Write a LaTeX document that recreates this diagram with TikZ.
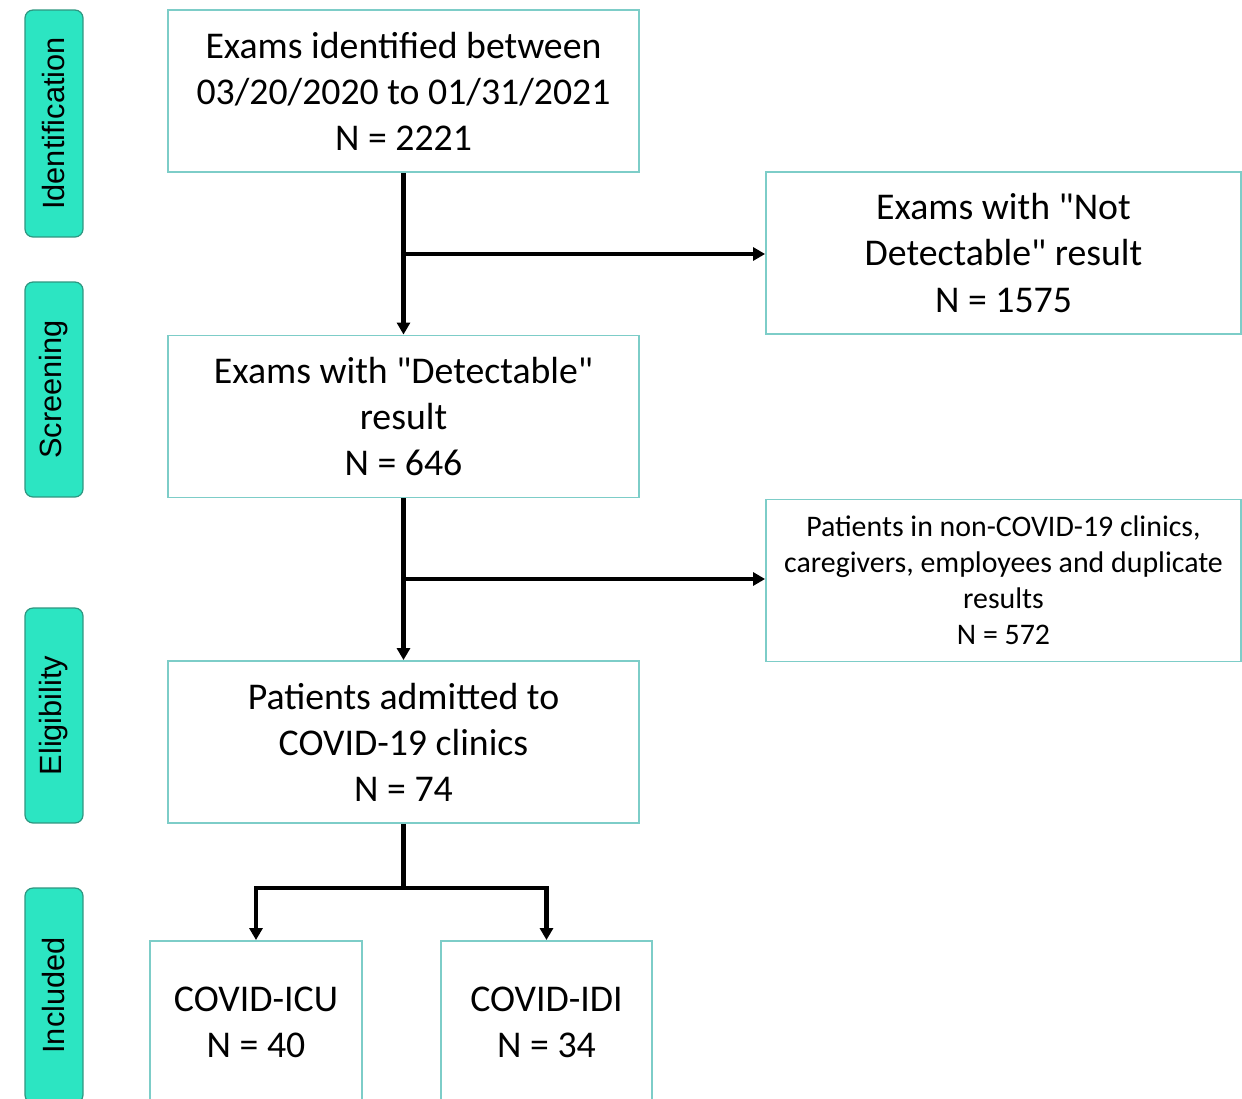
\documentclass[tikz,border=0pt]{standalone}
\usepackage{fontspec}
\setmainfont{Carlito}
\newfontfamily\stagefont{Liberation Sans}
\usetikzlibrary{arrows.meta}
\definecolor{stagefill}{RGB}{44,229,194}
\definecolor{stageline}{RGB}{46,150,128}
\definecolor{boxline}{RGB}{125,205,200}
\tikzset{
  stage/.style={
    rectangle,
    rounded corners=1.6mm,
    draw=stageline,
    fill=stagefill,
    line width=0.7pt,
    rotate=90,
    minimum height=1.16cm,
    inner sep=0pt,
    font=\stagefont\fontsize{17.5}{20}\selectfont
  },
  flowbox/.style={
    rectangle,
    draw=boxline,
    line width=1.1pt,
    minimum width=9.42cm,
    minimum height=3.24cm,
    inner sep=0pt,
    align=center,
    font=\fontsize{21.5}{26.2}\selectfont
  },
  smallbox/.style={flowbox,font=\fontsize{17}{20.5}\selectfont},
  edge/.style={-{Triangle[length=2.4mm,width=2.6mm]},line width=2.3pt},
  trunk/.style={line width=2.3pt}
}
\newcommand{\qt}{\textquotedbl}
\begin{document}
\begin{tikzpicture}[x=0.02cm,y=-0.02cm]
  \useasboundingbox (0,0) rectangle (1242,1099);

  % Stage labels on the left.
  \node[stage,minimum width=4.54cm] (sident) at (54,123.5) {Identification};
  \node[stage,minimum width=4.30cm] (sscreen) at (54,389.5) {Screening};
  \node[stage,minimum width=4.30cm] (selig) at (54,715.5) {Eligibility};
  \node[stage,minimum width=4.30cm] (sincl) at (54,995.5) {Included};

  % Main column.
  \node[flowbox] (ident) at (403.5,91)
    {Exams identified between\\03/20/2020 to 01/31/2021\\N = 2221};
  \node[flowbox] (detect) at (403.5,416.5)
    {Exams with \qt Detectable\qt\\result\\N = 646};
  \node[flowbox] (admit) at (403.5,742)
    {Patients admitted to\\COVID-19 clinics\\N = 74};

  % Exclusions.
  \node[flowbox,minimum width=9.5cm] (notdet) at (1003.5,253)
    {Exams with \qt Not\\Detectable\qt{} result\\N = 1575};
  \node[smallbox,minimum width=9.5cm] (excl) at (1003.5,580.5)
    {Patients in non-COVID-19 clinics,\\caregivers, employees and duplicate\\results\\N = 572};

  % Groups.
  \node[flowbox,minimum width=4.24cm] (icu) at (256,1022)
    {COVID-ICU\\N = 40};
  \node[flowbox,minimum width=4.22cm] (idi) at (546.5,1022)
    {COVID-IDI\\N = 34};

  % Arrows.
  \coordinate (b1) at (ident.south |- 0,254);
  \coordinate (b2) at (detect.south |- 0,579);
  \coordinate (split) at (admit.south |- 0,888);

  \draw[edge] (ident) -- (detect);
  \draw[edge] (b1) -- (notdet.west |- b1);
  \draw[edge] (detect) -- (admit);
  \draw[edge] (b2) -- (excl.west |- b2);
  \draw[trunk] (admit) -- (split);
  \draw[edge] (split) -| (icu.north);
  \draw[edge] (split) -| (idi.north);
\end{tikzpicture}
\end{document}
